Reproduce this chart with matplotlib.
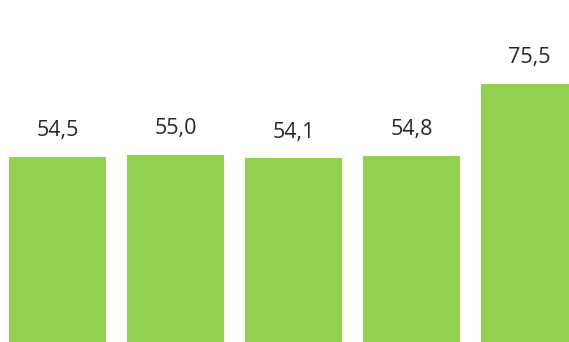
# 柱状图复刻
import matplotlib.pyplot as plt
import numpy as np

# 数据
categories = ["1", "2", "3", "4", "5"]
values = [54.5, 55.0, 54.1, 54.8, 75.5]
labels = ["54,5", "55,0", "54,1", "54,8", "75,5"]

fig = plt.figure(figsize=(5.69, 3.42), dpi=100)
ax = fig.add_axes([0, 0, 1, 1])

x = np.arange(len(categories))
bars = ax.bar(x, values, width=0.822, color="#92D050")

for b, lab in zip(bars, labels):
    ax.annotate(lab, (b.get_x() + b.get_width() / 2, b.get_height()),
                xytext=(0, 11.5), textcoords="offset points",
                ha="center", va="bottom", fontsize=15.5,
                family="Open Sans", color="#262626")

ax.set_xlim(-0.49, 4.335)
ax.set_ylim(1.3, 99.7)
ax.axis("off")

fig.savefig("out.png", dpi=100)
